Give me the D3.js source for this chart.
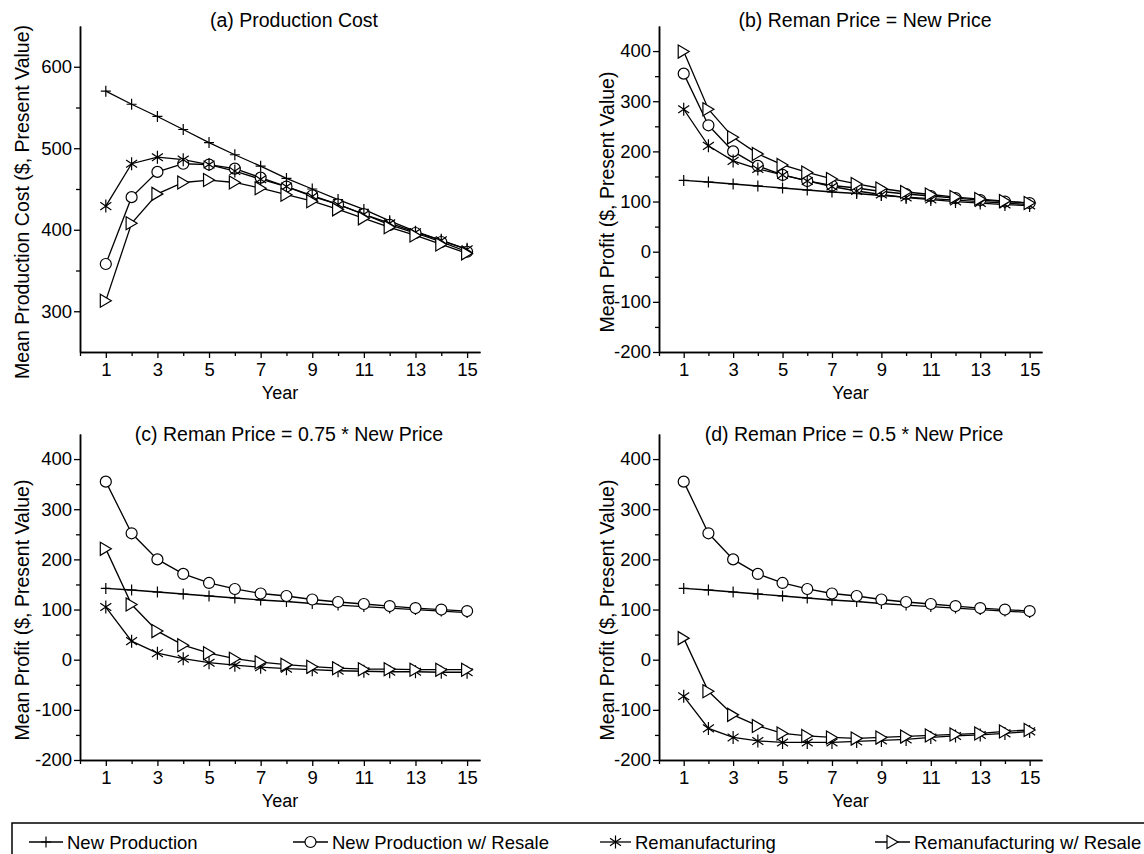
<!DOCTYPE html>
<html>
<head>
<meta charset="utf-8">
<script src="https://cdn.jsdelivr.net/npm/d3@7"></script>
<style>
  body { margin: 0; background: #fff; }
  svg text { font-family: "Liberation Sans", Arial, sans-serif; fill: #000; }
</style>
</head>
<body>
<div id="chart"></div>
<script>
// years on the x axis
var years = [1, 2, 3, 4, 5, 6, 7, 8, 9, 10, 11, 12, 13, 14, 15];

// (a) production cost
var costNew         = [570, 554, 539, 523, 507, 492, 478, 463, 450, 437, 425, 411, 398, 387, 376];
var costNewResale   = [358, 440, 471, 481, 480, 475, 464, 453, 442, 431, 419, 406, 396, 385, 373];
var costReman       = [429, 481, 489, 486, 480, 472, 462, 453, 441, 431, 419, 408, 397, 387, 376];
var costRemanResale = [313, 408, 444, 458, 461, 458, 451, 443, 435, 425, 414, 403, 393, 382, 371];

// profit, same in (b), (c), (d)
var profitNew       = [142, 139, 135, 131, 127, 123, 119, 116, 112, 109, 106, 103, 100, 97, 94];
var profitNewResale = [355, 252, 200, 171, 153, 141, 132, 127, 120, 115, 111, 107, 103, 100, 97];

// (b) reman price = new price
var remanB       = [284, 211, 181, 165, 153, 141, 130, 121, 114, 108, 104, 100, 97, 94, 92];
var remanResaleB = [399, 284, 228, 195, 173, 158, 145, 135, 126, 119, 114, 109, 105, 101, 97];

// (c) reman price = 0.75 * new price
var remanC       = [105, 37, 13, 2, -6, -11, -15, -18, -20, -22, -23, -24, -24, -25, -25];
var remanResaleC = [221, 110, 57, 29, 13, 2, -5, -10, -14, -17, -19, -19, -20, -20, -20];

// (d) reman price = 0.5 * new price
var remanD       = [-73, -137, -155, -162, -165, -165, -165, -163, -161, -159, -155, -152, -150, -147, -143];
var remanResaleD = [43, -63, -110, -132, -147, -152, -155, -157, -155, -153, -151, -149, -147, -143, -140];

var seriesNames = ["New Production", "New Production w/ Resale", "Remanufacturing", "Remanufacturing w/ Resale"];
var markerKinds = ["plus", "circle", "star", "tri"];

var profitMajors = [-200, -100, 0, 100, 200, 300, 400];
var profitMinors = [-150, -50, 50, 150, 250, 350];

var panels = [
    { title: "(a) Production Cost", ylabel: "Mean Production Cost ($, Present Value)",
      left: 80, top: 26, w: 400, ydom: [250, 650], majors: [300, 400, 500, 600], minors: [350, 450, 550],
      data: [costNew, costNewResale, costReman, costRemanResale], tx: 294, ty: 27, lx: 29 },
    { title: "(b) Reman Price = New Price", ylabel: "Mean Profit ($, Present Value)",
      left: 659, top: 26, w: 383, ydom: [-200, 450], majors: profitMajors, minors: profitMinors,
      data: [profitNew, profitNewResale, remanB, remanResaleB], tx: 865, ty: 27, lx: 614 },
    { title: "(c) Reman Price = 0.75 * New Price", ylabel: "Mean Profit ($, Present Value)",
      left: 80, top: 434, w: 400, ydom: [-200, 450], majors: profitMajors, minors: profitMinors,
      data: [profitNew, profitNewResale, remanC, remanResaleC], tx: 289, ty: 441, lx: 29 },
    { title: "(d) Reman Price = 0.5 * New Price", ylabel: "Mean Profit ($, Present Value)",
      left: 659, top: 434, w: 383, ydom: [-200, 450], majors: profitMajors, minors: profitMinors,
      data: [profitNew, profitNewResale, remanD, remanResaleD], tx: 854, ty: 441, lx: 614 }
];

var plotH = 326;

var svg = d3.select("#chart")
    .append("svg")
    .attr("width", 1144)
    .attr("height", 854);

// marker shapes
function drawMarker(g, kind) {
    if (kind == "plus") {
        g.append("path").attr("d", "M-5,0H5M0,-5.5V5.5")
            .attr("stroke", "#000").attr("stroke-width", 1.2).attr("fill", "none");
    } else if (kind == "circle") {
        g.append("circle").attr("r", 5.5)
            .attr("fill", "#fff").attr("stroke", "#000").attr("stroke-width", 1.2);
    } else if (kind == "star") {
        g.append("path").attr("d", "M0,-6.5V6.5M-5.5,-3.8L5.5,3.8M-5.5,3.8L5.5,-3.8")
            .attr("stroke", "#000").attr("stroke-width", 1.2).attr("fill", "none");
    } else {
        g.append("path").attr("d", "M-5.5,-6.5L5.5,0L-5.5,6.5Z")
            .attr("fill", "#fff").attr("stroke", "#000").attr("stroke-width", 1.2);
    }
}

panels.forEach(function(p) {
    var g = svg.append("g").attr("transform", `translate(${p.left}, ${p.top})`);

    var x = d3.scaleLinear().domain([0, 15.5]).range([0, p.w]);
    var y = d3.scaleLinear().domain(p.ydom).range([plotH, 0]);

    // x axis: labels on odd years, short ticks on even ones
    var oddYears = years.filter(d => d % 2 == 1);
    var evenYears = [0].concat(years.filter(d => d % 2 == 0));

    var xAxis = g.append("g")
        .attr("transform", `translate(0, ${plotH})`)
        .call(d3.axisBottom(x).tickValues(oddYears).tickSize(6).tickPadding(5).tickSizeOuter(0));
    xAxis.append("g")
        .call(d3.axisBottom(x).tickValues(evenYears).tickSize(4).tickFormat("").tickSizeOuter(0));

    var yAxis = g.append("g")
        .call(d3.axisLeft(y).tickValues(p.majors).tickSize(6).tickPadding(2)
            .tickFormat(d => String(d)).tickSizeOuter(0));
    yAxis.append("g")
        .call(d3.axisLeft(y).tickValues(p.minors).tickSize(4).tickFormat("").tickSizeOuter(0));

    g.selectAll(".domain").attr("stroke", "#000").attr("stroke-width", 1.5);
    g.selectAll(".tick line").attr("stroke", "#000").attr("stroke-width", 1.3);
    g.selectAll(".tick text").attr("font-size", "18.5px")
        .attr("font-family", '"Liberation Sans", Arial, sans-serif');

    // x label
    g.append("text")
        .attr("x", p.w / 2)
        .attr("y", plotH + 47)
        .attr("text-anchor", "middle")
        .attr("font-size", "18px")
        .text("Year");

    // y label
    svg.append("text")
        .attr("transform", `translate(${p.lx}, ${p.top + plotH / 2 + 13}) rotate(-90)`)
        .attr("text-anchor", "middle")
        .attr("font-size", "19.5px")
        .text(p.ylabel);

    // title
    svg.append("text")
        .attr("x", p.tx)
        .attr("y", p.ty)
        .attr("text-anchor", "middle")
        .attr("font-size", "19.5px")
        .text(p.title);

    var line = d3.line()
        .x((d, i) => x(years[i]))
        .y(d => y(d));

    p.data.forEach(function(vals, k) {
        g.append("path")
            .datum(vals)
            .attr("d", line)
            .attr("fill", "none")
            .attr("stroke", "#000")
            .attr("stroke-width", 1.3);
    });

    p.data.forEach(function(vals, k) {
        g.selectAll(null)
            .data(vals)
            .enter()
            .append("g")
            .attr("transform", (d, i) => `translate(${x(years[i])}, ${y(d)})`)
            .each(function() { drawMarker(d3.select(this), markerKinds[k]); });
    });
});

// legend box, runs off the bottom/right edge
svg.append("rect")
    .attr("x", 12).attr("y", 823)
    .attr("width", 1200).attr("height", 100)
    .attr("fill", "none").attr("stroke", "#000").attr("stroke-width", 1.5);

var legendX = [29, 293, 600, 875];
var legendW = [34, 35, 31, 35];

seriesNames.forEach(function(name, k) {
    var lg = svg.append("g").attr("transform", `translate(${legendX[k]}, 842)`);
    lg.append("line")
        .attr("x1", 0).attr("x2", legendW[k])
        .attr("stroke", "#000").attr("stroke-width", 1.3);
    var m = lg.append("g").attr("transform", `translate(${legendW[k] / 2}, 0)`);
    drawMarker(m, markerKinds[k]);
    lg.append("text")
        .attr("x", legendW[k] + 4)
        .attr("y", 6.5)
        .attr("font-size", "18.5px")
        .text(name);
});
</script>
</body>
</html>
